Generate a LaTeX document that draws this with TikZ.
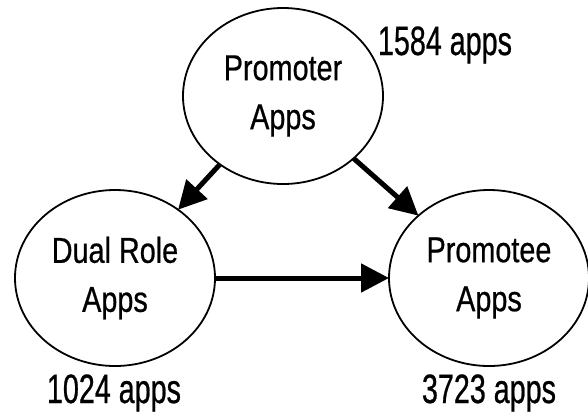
\documentclass[tikz,border=0pt]{standalone}
\usepackage{fontspec}
\newfontfamily\nf[FakeStretch=0.8,FakeBold=0.6]{Liberation Sans}
\newfontfamily\nfc[FakeStretch=0.7,FakeBold=0.6]{Liberation Sans}
\usetikzlibrary{shapes.geometric,arrows.meta}
\begin{document}
\begin{tikzpicture}[x=1pt,y=-1pt,
  app/.style={ellipse,draw,line width=1.8pt,minimum width=200pt,minimum height=176pt,inner sep=0pt,outer sep=0pt,align=center,font=\nf\fontsize{36}{49}\selectfont},
  cnt/.style={anchor=base,inner sep=0pt,font=\nfc\fontsize{41}{50}\selectfont},
  link/.style={line width=5pt,-{Triangle[length=28pt,width=28pt]}}]
\useasboundingbox (0,0) rectangle (588,416);
\node[app] (top) at (283,96) {Promoter\\Apps};
\node[app] (left) at (115,278) {Dual Role\\Apps};
\node[app] (right) at (489,278) {Promotee\\Apps};
\node[cnt] (c1) at (445,55) {1584 apps};
\node[cnt] (c2) at (114,403) {1024 apps};
\node[cnt] (c3) at (489,403) {3723 apps};
\draw[link] (top) -- (left);
\draw[link] (top) -- (right);
\draw[link] (left) -- (right);
\end{tikzpicture}
\end{document}
